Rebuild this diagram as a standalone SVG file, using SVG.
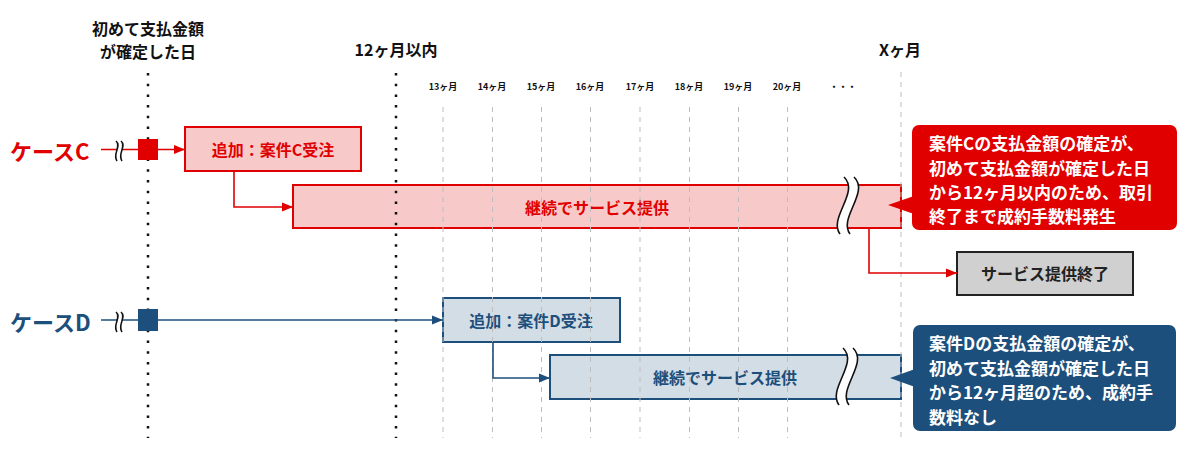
<svg xmlns="http://www.w3.org/2000/svg" width="1185" height="457" viewBox="0 0 1185 457">
<defs>
<style>
text{font-family:"Noto Sans CJK JP","Noto Sans",sans-serif;font-weight:700;dominant-baseline:central}
.hdr{font-size:16px;fill:#111;text-anchor:middle}
.mon{font-size:9px;fill:#111;text-anchor:middle}
.dot{stroke:#111;stroke-width:2.5;stroke-dasharray:2.5 8.2;fill:none}
.grid{stroke:#bdbdbd;stroke-width:1;stroke-dasharray:5 5;fill:none}
.redbox{fill:#f8c9c9;stroke:#e00000;stroke-width:2}
.bluebox{fill:#d3dde6;stroke:#1d4f7c;stroke-width:2}
.redtxt{fill:#e00000;font-size:16px;text-anchor:middle}
.bluetxt{fill:#1d4f7c;font-size:16px;text-anchor:middle}
.redln{stroke:#e00000;stroke-width:1.6;fill:none}
.blueln{stroke:#1d4f7c;stroke-width:1.6;fill:none}
.brk{fill:#fff;stroke:none}
.brkl{fill:none;stroke:#111;stroke-width:1.6}
.call{fill:#fff;font-size:17px}
</style>
<marker id="arR" markerUnits="userSpaceOnUse" markerWidth="12" markerHeight="10" refX="11" refY="5" orient="auto"><path d="M0,0.5 L11,5 L0,9.5 z" fill="#e00000"/></marker>
<marker id="arB" markerUnits="userSpaceOnUse" markerWidth="12" markerHeight="10" refX="11" refY="5" orient="auto"><path d="M0,0.5 L11,5 L0,9.5 z" fill="#1d4f7c"/></marker>
</defs>
<rect width="1185" height="457" fill="#fff"/>

<g id="headers">
<text class="hdr" x="148" y="27.5">初めて支払金額</text>
<text class="hdr" x="148" y="50.5">が確定した日</text>
<text class="hdr" x="396" y="49">12ヶ月以内</text>
<text class="hdr" x="900" y="49">Xヶ月</text>
<text class="mon" x="443" y="86">13ヶ月</text>
<text class="mon" x="492" y="86">14ヶ月</text>
<text class="mon" x="541" y="86">15ヶ月</text>
<text class="mon" x="590" y="86">16ヶ月</text>
<text class="mon" x="640" y="86">17ヶ月</text>
<text class="mon" x="689" y="86">18ヶ月</text>
<text class="mon" x="738" y="86">19ヶ月</text>
<text class="mon" x="787" y="86">20ヶ月</text>
<text class="mon" x="843" y="86">・・・</text>
</g>

<g id="caseC-label"><text x="10" y="150" font-size="22" fill="#e00000">ケースC</text></g>
<g id="caseD-label"><text x="10" y="321" font-size="22" fill="#1d4f7c">ケースD</text></g>

<g id="nodeC1"><rect class="redbox" x="185" y="127" width="176" height="44"/><text class="redtxt" x="273" y="149">追加：案件C受注</text></g>
<g id="nodeC2"><rect class="redbox" x="293" y="185" width="608" height="43"/><text class="redtxt" x="597" y="207">継続でサービス提供</text></g>
<g id="nodeD1"><rect class="bluebox" x="443" y="298" width="177" height="44"/><text class="bluetxt" x="531" y="320">追加：案件D受注</text></g>
<g id="nodeD2"><rect class="bluebox" x="550" y="355" width="351" height="44"/><text class="bluetxt" x="725" y="377">継続でサービス提供</text></g>
<g id="nodeEnd"><rect x="957" y="252" width="176" height="43" fill="#d0d0d0" stroke="#222" stroke-width="2"/><text x="1045" y="273" font-size="16" fill="#222" text-anchor="middle">サービス提供終了</text></g>

<g id="grid">
<line class="dot" x1="148" y1="73" x2="148" y2="438"/>
<line class="dot" x1="396" y1="73" x2="396" y2="438"/>
<line class="grid" x1="443" y1="107" x2="443" y2="438"/>
<line class="grid" x1="492.5" y1="107" x2="492.5" y2="438"/>
<line class="grid" x1="541.5" y1="107" x2="541.5" y2="438"/>
<line class="grid" x1="590.5" y1="107" x2="590.5" y2="438"/>
<line class="grid" x1="640" y1="107" x2="640" y2="438"/>
<line class="grid" x1="689.5" y1="107" x2="689.5" y2="438"/>
<line class="grid" x1="738.5" y1="107" x2="738.5" y2="438"/>
<line class="grid" x1="787.5" y1="107" x2="787.5" y2="438"/>
<line class="grid" x1="901" y1="72" x2="901" y2="438"/>
</g>

<g id="connectors">
<line class="redln" x1="101" y1="149.5" x2="185" y2="149.5" marker-end="url(#arR)"/>
<path class="redln" d="M234,171 V207 H293" marker-end="url(#arR)"/>
<path class="redln" d="M869,228 V273 H957" marker-end="url(#arR)"/>
<line class="blueln" x1="101" y1="320" x2="443" y2="320" marker-end="url(#arB)"/>
<path class="blueln" d="M493,342 V378 H550" marker-end="url(#arB)"/>
</g>

<g id="breaks">
<path class="brk" d="M116,141 C122,146 112,154 117,161 L122,161 C117,154 127,146 121,141 z"/>
<path class="brkl" d="M116,141 C122,146 112,154 117,161 M121,141 C127,146 117,154 122,161"/>
<path class="brk" d="M116,312 C122,317 112,325 117,332 L122,332 C117,325 127,317 121,312 z"/>
<path class="brkl" d="M116,312 C122,317 112,325 117,332 M121,312 C127,317 117,325 122,332"/>
<path class="brk" d="M844,177 C860,192 828,218 840,234 L850,234 C838,218 870,192 854,177 z"/>
<path class="brkl" d="M844,177 C860,192 828,218 840,234 M854,177 C870,192 838,218 850,234"/>
<path class="brk" d="M843,348 C859,363 827,389 839,405 L849,405 C837,389 869,363 853,348 z"/>
<path class="brkl" d="M843,348 C859,363 827,389 839,405 M853,348 C869,363 837,389 849,405"/>
</g>

<g id="markerC"><rect x="138" y="139" width="20" height="21" fill="#e00000"/></g>
<g id="markerD"><rect x="138" y="309" width="20" height="22" fill="#1d4f7c"/></g>

<g id="calloutC">
<rect x="912" y="125" width="265" height="105" rx="7" fill="#e00000"/>
<path d="M914,196 L888,205 L914,214 z" fill="#e00000"/>
<text class="call" x="929" y="142">案件Cの支払金額の確定が、</text>
<text class="call" x="929" y="167">初めて支払金額が確定した日</text>
<text class="call" x="929" y="191">から12ヶ月以内のため、取引</text>
<text class="call" x="929" y="215">終了まで成約手数料発生</text>
</g>
<g id="calloutD">
<rect x="913" y="325" width="263" height="106" rx="7" fill="#1d4f7c"/>
<path d="M915,369 L890,378 L915,387 z" fill="#1d4f7c"/>
<text class="call" x="929" y="342">案件Dの支払金額の確定が、</text>
<text class="call" x="929" y="367">初めて支払金額が確定した日</text>
<text class="call" x="929" y="391">から12ヶ月超のため、成約手</text>
<text class="call" x="929" y="416">数料なし</text>
</g>
</svg>
